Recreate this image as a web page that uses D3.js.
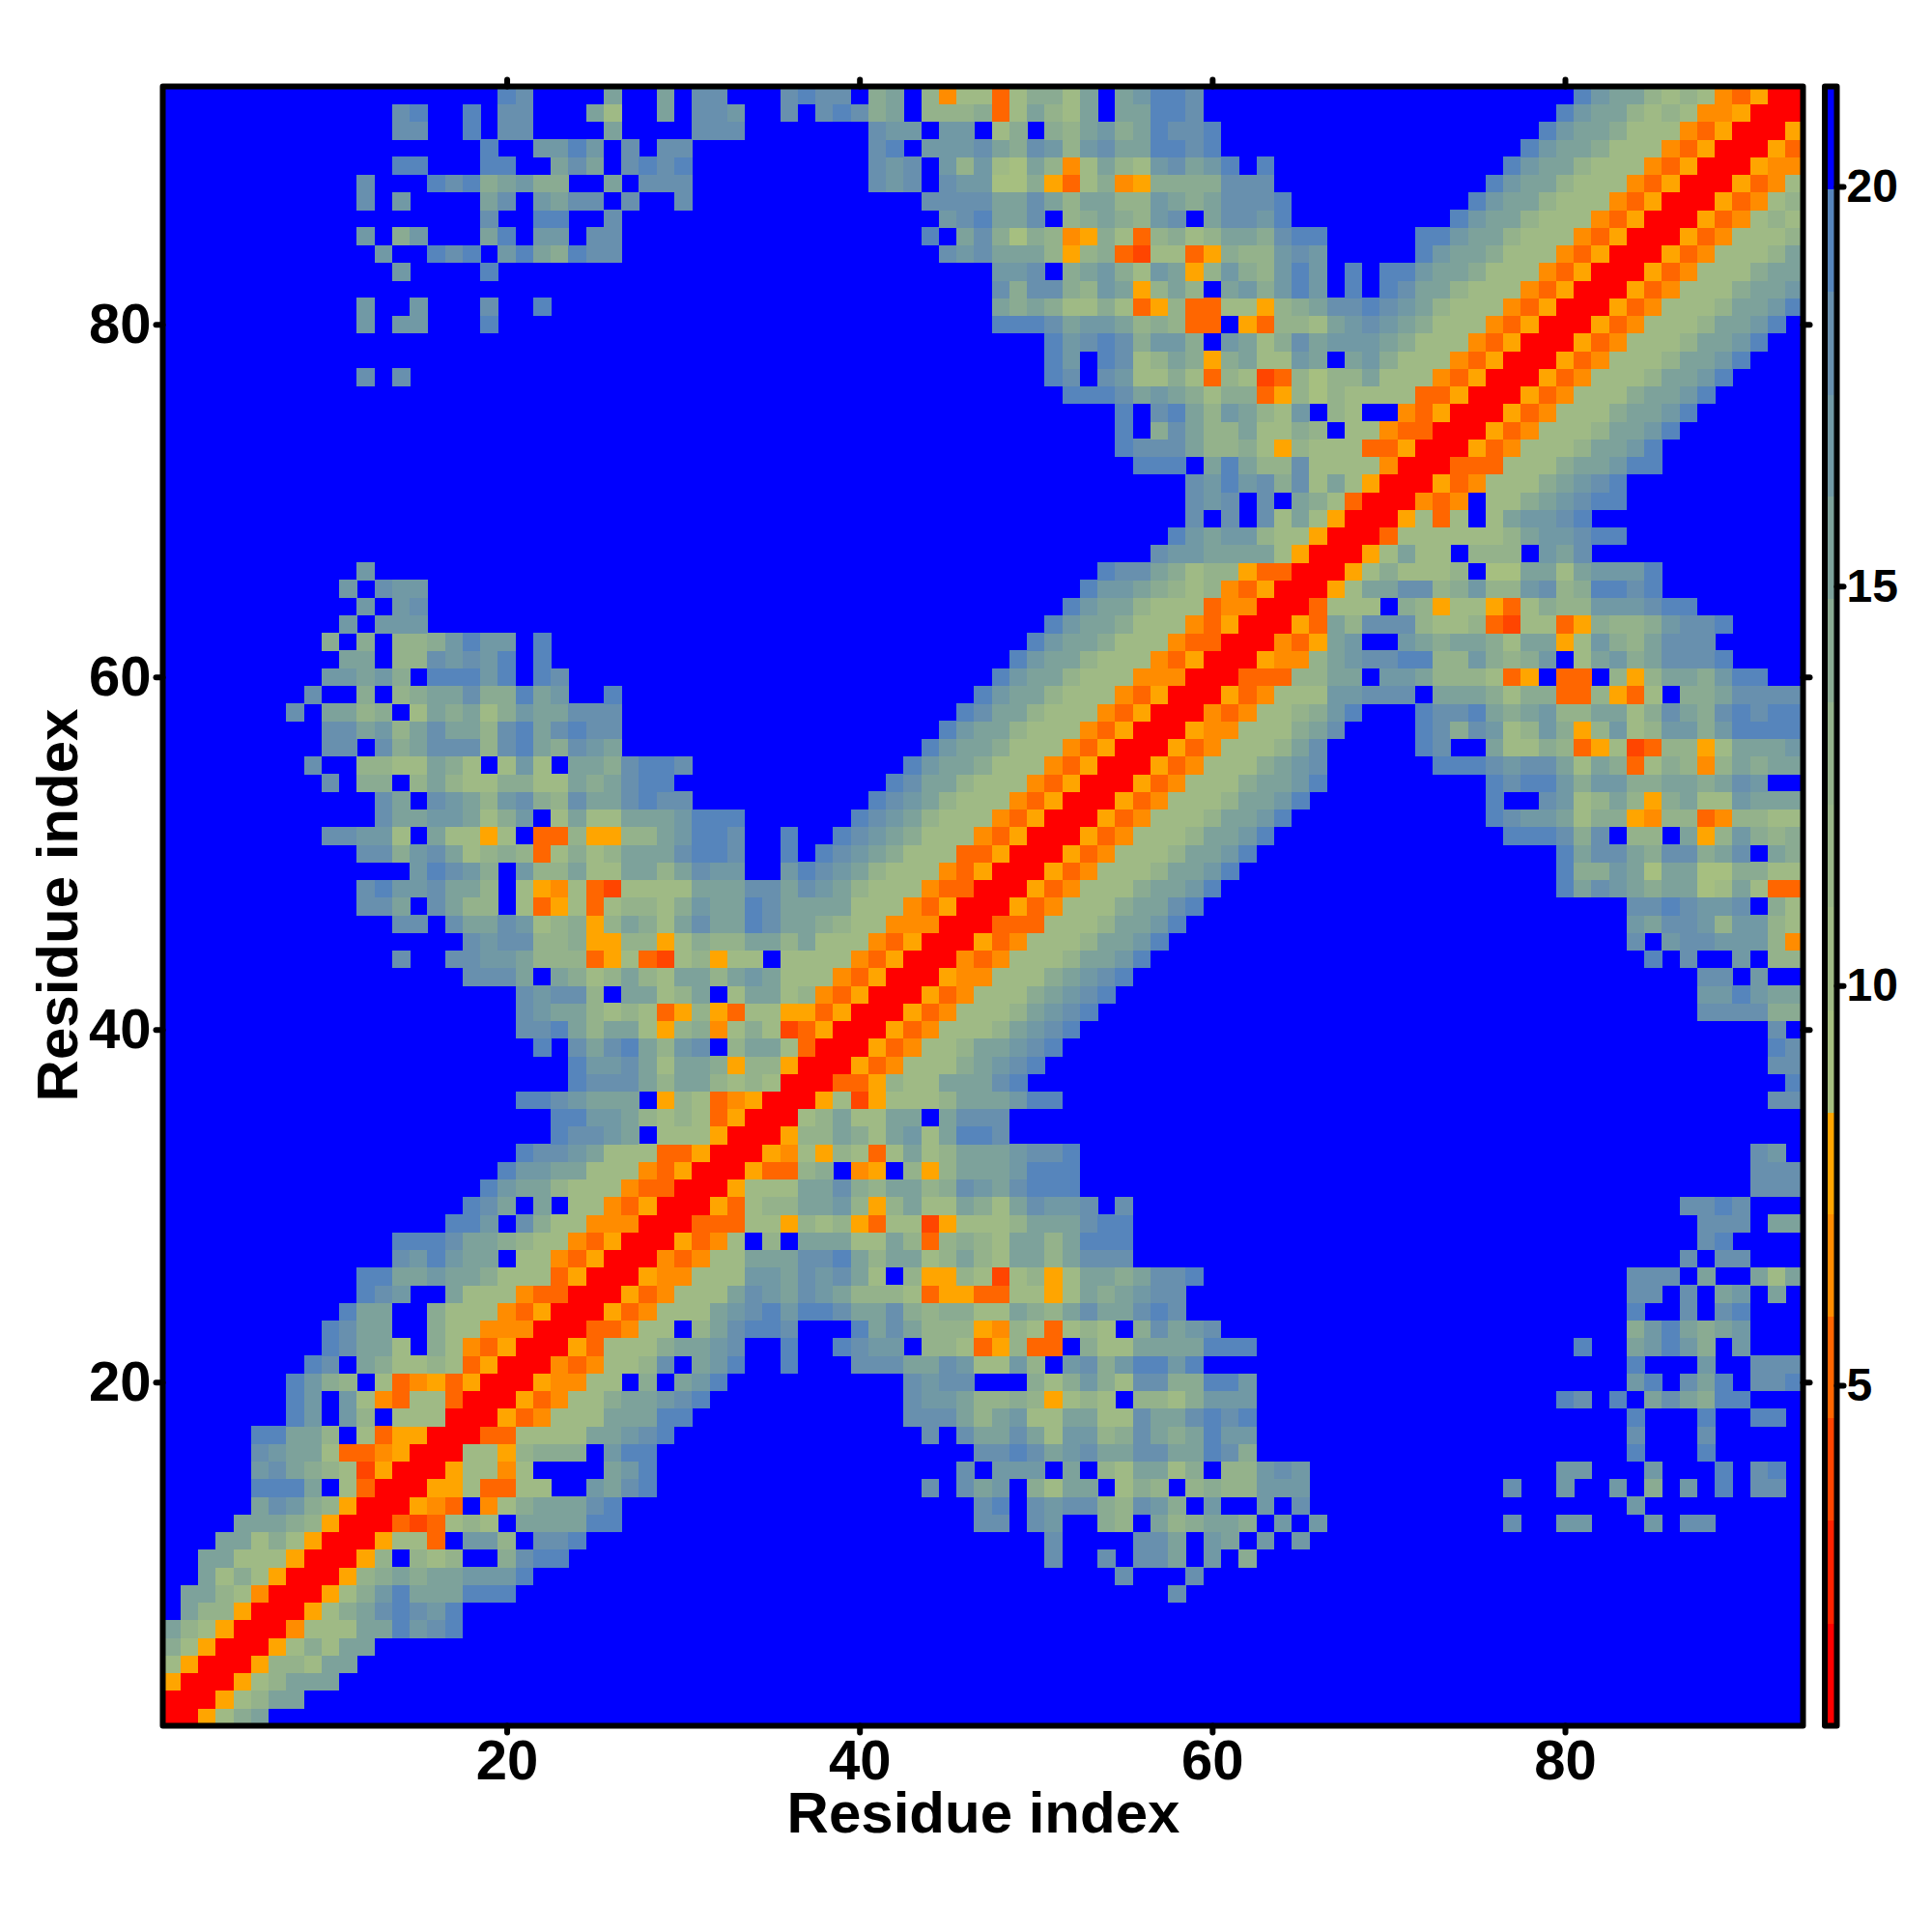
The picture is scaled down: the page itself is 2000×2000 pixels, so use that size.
<!DOCTYPE html>
<html><head><meta charset="utf-8">
<script src="https://cdn.jsdelivr.net/npm/d3@7/dist/d3.min.js"></script>
<style>html,body{margin:0;padding:0;background:#fff}svg{display:block}text{font-family:"Liberation Sans",Arial,sans-serif;font-weight:bold;fill:#000}</style>
</head><body><svg id="c" width="2000" height="2000"></svg>
<script>
// one entry per residue j (row); first run starts at x=j, further runs are "x:codes"
const rowCodes = [
"rrg245","rrg2355","rrg23555","rrg33255","rrg24255","rrn222558678","rrg24578768",
"rrg2468555888 58:7","rrg3454556668 55:7 59:7","rrg3.323..4788 51:7 54:7 56:775 60:6 62:4",
"rrg22o.663.778 51:7 56:775 60:65 63:6 65:6",
"rroxo232.555588 47:77.76..43.534554.6.6 77:7 80:66 85:6 87:77",
"rrgno.n2455578 47:78.767743764.6..6.7 84:6",
"rrgg2oo22..6578 44:7.756.4255.243.3433666 77:7 80:6 83:6 85:4 87:6 89:8 91:77",
"rrg22n2....568 46:7.666.5.325524.33676 80:66 85:6 89:8 91:78",
"rr22g3444.688 47:7787567557755874 84:8 88:8",
"rroo222255678 44:7.75575266347545866 84:7 88:7",
"rrgon22255588 43:77753562255227557878 84:8 88:8 91:88",
"rrgon22455678 43:76653343g232.3324666 80:87 83:8 85:575488",
"rrgnn22.4.568 43:7677...4246427744886 84:68 87:758 91:778",
"rrnon2237.568 36:8 40:77755762263.67468868 84:8 88:6 91:777",
"rrgo22245567..8..8766.332og3oo.4225555888 81:8 84:56864.6",
"rroon22.357887...8575333gn32o232.47567 84:4685456",
"rrgon222567868875574344225435755787 84:8 87:7 89:78",
"rrgon22257657653332oggoo22g2545677 84:77 87:7 89:56 92:5",
"rrgnn22266576752.3gg32x23g25545778 84:777 88:5 91:525",
"rrnon225557785355235325535777 87:7 89:77",
"rrgon2.3.5552253o34325535888 88:78",
"rrooo22g323go22xg2223555788 88:777 92:55",
"rrgo2335563g352254257667.7 87:7787",
"rrg2225574355347657888 91:777",
"rrgoo34.ng.3g35556888 91:777",
"rrgn2g32o25235556778 91:76",
"rrg335425625887","rr2352255.5777",
"rrg2xg2223555688 92:77","rroog32255578 93:8","rrgon22245678 92:77","rrgon22355678 92:87",
"rrgon22235678 92:7","rrgon22235678 88:777744","rrgon22245678 88:668655","rrgnn22245678 88:77.6",
"rrnon22235568 85:8 87:7 90:6 92:33","rrgon22235568 84:7.6776663n","rrooo22235568 84:6577636632",
"rrgon22245578 84:7787667.42","rrgon22245568 80:857654551252oo","rrgon22235568 80:84465155114422",
"rrgon22235568 80:85775477457.54","rrgon22235568 77:888747.33.5g36434",
"rrgon22235568 76:87665244gn33on3322","rrgon22235568 76:8..762353g45226555",
"rrgon22245568 76:8788646644554576","rrgon2224567 73:88876775254o243n35455",
"rrgon222357 72:87..52243og2xo33g25556","rrgnn222457 72:874762364g362366468888",
"rrnon223468 72:8778545633552475478788","rrgon22266777.5554244oo3go2.4457777",
"rrooo3355.6653332og.oo.3g3554688","rrgnn35677883364346.256457778",
"rrnog56..654554255g26435777","rrgo537773223ox22og43346778",
"rro222.43g22go2433666788","rrg255773463367348878","rrg242223.1155256668",
"rrg2522.333.657","rro2222223566788","rrg2o2.256678","rrnon.22456788",
"rrgon22245678","rrooo222455688","rrgon22235568","rrgon22235568",
"rrgon22245568","rrgon22245568","rrgon22235568","rrgon22235568","rrgon22235568",
"rrgon22235568","rrgon22235568","rrgon2224556","rrgon222455","rrgon22235",
"rrgon2223","rrgon232","rrgon23","rrgon2","rrgnn","rrgo","rrg","rr","r"
];
const codeChars  = ["r","x","o","n","g","1","2","3","4","5","6","7","8","."];
const codeValues = [1.4,4.0,5.2,6.5,7.8,9.0,10.3,12.9,14.2,15.5,16.8,18.0,19.3,21.0];
const residueCount = 93;
const levelBreaks = [2.02,3.31,4.6,5.87,7.15,8.42,9.7,10.99,12.27,13.55,14.84,16.12,17.4,18.69,19.97];
const levelColors = ["#ff0000","#ff2200","#ff4500","#ff6600","#ff8c00","#ffa500","#a6bf80","#9fba85","#99b688","#94b28b","#8aab92","#7da29b","#7199a5","#6890ae","#5685bc","#0000ff"];
const axisTicks = [20,40,60,80];
const barTicks = [5,10,15,20];
const barRange = [0.74,21.25];
const xTitle = "Residue index", yTitle = "Residue index";

// geometry
const L=168.5,R=1866.5,T=89.5,B=1786.5, BL=1889,BR=1901.5;
const valueByCode = new Map(codeChars.map((c,i)=>[c,codeValues[i]]));
const x=d3.scaleLinear().domain([0.5,residueCount+0.5]).range([L,R]);
const y=d3.scaleLinear().domain([0.5,residueCount+0.5]).range([B,T]);
const color=d3.scaleThreshold().domain(levelBreaks).range(levelColors);
const bar=d3.scaleLinear().domain(barRange).range([B,T]);

const cells=[];
rowCodes.forEach((row,idx)=>{
  const j=idx+1;
  row.split(" ").forEach((seg,k)=>{
    let start=j,codes=seg;
    if(k>0){const p=seg.split(":");start=+p[0];codes=p[1];}
    [...codes].forEach((c,m)=>{
      const i=start+m;const v=valueByCode.get(c);
      if(c==="."){return;}
      cells.push({i,j,v});
      if(i!==j)cells.push({i:j,j:i,v});
    });
  });
});
const svg=d3.select("#c");
svg.append("rect").attr("x",L).attr("y",T).attr("width",R-L).attr("height",B-T).attr("fill",color(codeValues[codeValues.length-1]));
const cw=x(2)-x(1),ch=y(1)-y(2);
svg.append("g").attr("shape-rendering","crispEdges").selectAll("rect").data(cells).join("rect")
  .attr("x",d=>x(d.i-0.5)).attr("y",d=>y(d.j+0.5)).attr("width",cw+0.4).attr("height",ch+0.4).attr("fill",d=>color(d.v));

// colour bar
const edges=[barRange[0],...levelBreaks,barRange[1]];
svg.append("g").attr("shape-rendering","crispEdges").selectAll("rect").data(levelColors).join("rect")
  .attr("x",BL).attr("width",BR-BL).attr("y",(d,i)=>bar(edges[i+1])).attr("height",(d,i)=>bar(edges[i])-bar(edges[i+1])+0.5).attr("fill",d=>d);

const SW=6;
function styleAxis(g,size){
  g.select(".domain").remove();
  g.selectAll("line").attr("stroke","#000").attr("stroke-width",SW).attr("stroke-linecap","round");
  g.selectAll("text").attr("font-size",size).attr("font-weight","bold").attr("font-family","Liberation Sans");
}
const TS=7;
svg.append("g").attr("transform",`translate(0,${B})`).call(d3.axisBottom(x).tickValues(axisTicks).tickSize(TS).tickPadding(7)).call(g=>styleAxis(g,58));
svg.append("g").attr("transform",`translate(${L},0)`).call(d3.axisLeft(y).tickValues(axisTicks).tickSize(TS).tickPadding(5)).call(g=>styleAxis(g,58));
svg.append("g").attr("transform",`translate(0,${T})`).call(d3.axisTop(x).tickValues(axisTicks).tickSize(TS).tickFormat("")).call(g=>styleAxis(g,58));
svg.append("g").attr("transform",`translate(${R},0)`).call(d3.axisRight(y).tickValues(axisTicks).tickSize(TS).tickFormat("")).call(g=>styleAxis(g,58));
svg.append("g").attr("transform",`translate(${BR},0)`).call(d3.axisRight(bar).tickValues(barTicks).tickSize(7).tickPadding(3)).call(g=>styleAxis(g,48));

svg.append("rect").attr("x",L).attr("y",T).attr("width",R-L).attr("height",B-T).attr("fill","none").attr("stroke","#000").attr("stroke-width",SW).attr("stroke-linejoin","round");
svg.append("rect").attr("x",BL).attr("y",T).attr("width",BR-BL).attr("height",B-T).attr("fill","none").attr("stroke","#000").attr("stroke-width",SW).attr("stroke-linejoin","round");

svg.append("text").attr("x",1018).attr("y",1897).attr("text-anchor","middle").attr("font-size",60).text(xTitle);
svg.append("text").attr("transform","translate(80,937) rotate(-90)").attr("text-anchor","middle").attr("font-size",60).text(yTitle);
</script></body></html>
